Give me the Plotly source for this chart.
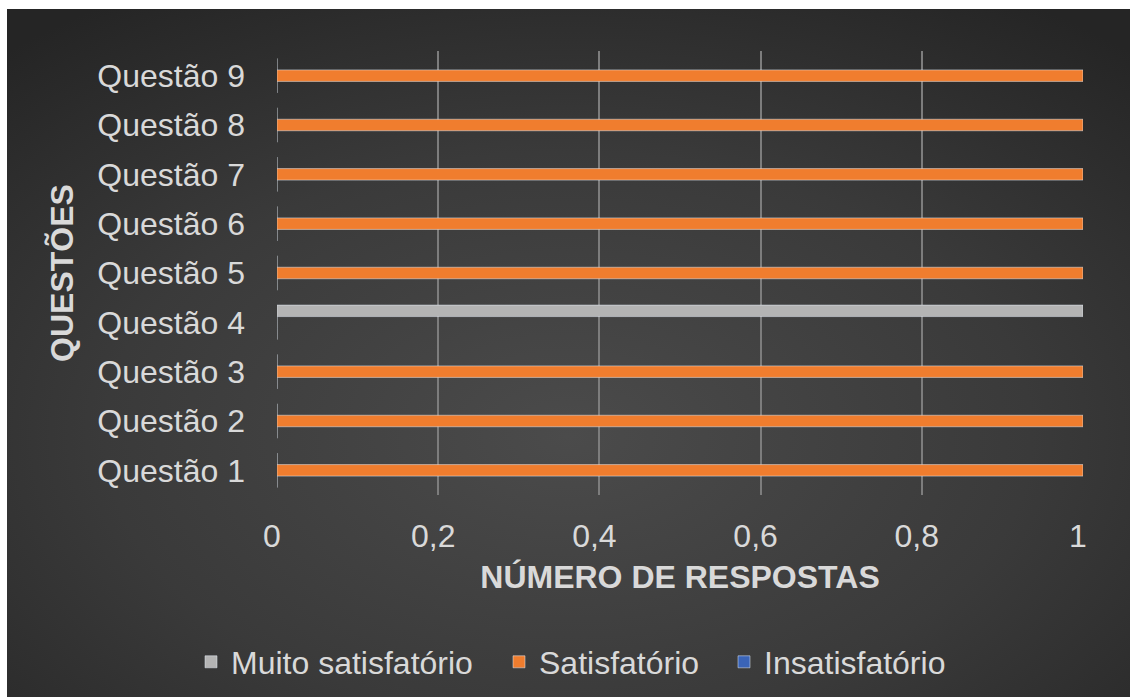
import base64
import plotly.graph_objects as go

# Questions and responses per rating
questoes = ["Questão 1", "Questão 2", "Questão 3", "Questão 4", "Questão 5",
            "Questão 6", "Questão 7", "Questão 8", "Questão 9"]
muito_satisfatorio = [0, 0, 0, 1, 0, 0, 0, 0, 0]
satisfatorio = [1, 1, 1, 0, 1, 1, 1, 1, 1]
insatisfatorio = [0, 0, 0, 0, 0, 0, 0, 0, 0]

x_ticks = [0, 0.2, 0.4, 0.6, 0.8, 1]
x_tick_labels = ["0", "0,2", "0,4", "0,6", "0,8", "1"]

W, H = 1130, 697
L, R, T, B = 277, 47, 51, 202
pw, ph = W - L - R, H - T - B

TEXT = "#d9d9d9"
FONT = "Liberation Sans, Arial, sans-serif"
FS = 32

# dark radial-gradient backdrop
svg = (
    '<svg xmlns="http://www.w3.org/2000/svg" width="1123" height="688" '
    'preserveAspectRatio="none">'
    '<defs><radialGradient id="g" cx="50%" cy="62%" r="75%">'
    '<stop offset="0%" stop-color="#4b4b4b"/>'
    '<stop offset="55%" stop-color="#3a3a3a"/>'
    '<stop offset="100%" stop-color="#252525"/>'
    '</radialGradient></defs>'
    '<rect width="1123" height="688" fill="url(#g)"/></svg>'
)
bg_src = "data:image/svg+xml;base64," + base64.b64encode(svg.encode()).decode()


def px_x(p):
    return (p - L) / pw


def px_y(p):
    return 1 - (p - T) / ph


fig = go.Figure()
fig.add_trace(go.Bar(y=questoes, x=insatisfatorio, orientation="h",
                     name="Insatisfatório", marker_color="#3a64b8",
                     legend="legend3"))
fig.add_trace(go.Bar(y=questoes, x=satisfatorio, orientation="h",
                     name="Satisfatório", marker_color="#f07d2e",
                     legend="legend2"))
fig.add_trace(go.Bar(y=questoes, x=muito_satisfatorio, orientation="h",
                     name="Muito satisfatório", marker_color="#b4b4b4",
                     legend="legend"))


def legend_at(left_px):
    return dict(orientation="h", x=px_x(left_px), y=px_y(662),
                xanchor="left", yanchor="middle",
                font=dict(size=FS, color=TEXT),
                bgcolor="rgba(0,0,0,0)", itemwidth=30)


fig.update_layout(
    width=W, height=H,
    margin=dict(l=L, r=R, t=T, b=B, autoexpand=False),
    paper_bgcolor="white",
    plot_bgcolor="rgba(0,0,0,0)",
    barmode="group",
    bargap=0.3,
    bargroupgap=0,
    font=dict(family=FONT, color=TEXT, size=FS),
    images=[dict(source=bg_src, xref="paper", yref="paper",
                 x=px_x(7), y=px_y(9), sizex=px_x(W) - px_x(7),
                 sizey=px_y(9) - px_y(H), xanchor="left", yanchor="top",
                 sizing="stretch", layer="below")],
    xaxis=dict(
        range=[0, 1], tickvals=x_ticks, ticktext=x_tick_labels,
        showgrid=True, gridcolor="#7d7d7d", gridwidth=2,
        zeroline=False, showline=False,
        ticks="", ticklabelstandoff=19, ticklabelshift=-5,
        tickfont=dict(size=FS, color=TEXT),
        title=dict(text="<b>NÚMERO DE RESPOSTAS</b>", standoff=12,
                   font=dict(size=FS, color=TEXT)),
        fixedrange=True,
    ),
    yaxis=dict(
        showgrid=False, zeroline=False, showline=False,
        ticks="", ticklabelstandoff=31,
        tickfont=dict(size=FS, color=TEXT),
        title=dict(text="<b>QUESTÕES</b>", standoff=14,
                   font=dict(size=FS, color=TEXT)),
        fixedrange=True,
    ),
    legend=legend_at(191),
    legend2=legend_at(499),
    legend3=legend_at(724),
    showlegend=True,
)

fig.write_html("out.html")
